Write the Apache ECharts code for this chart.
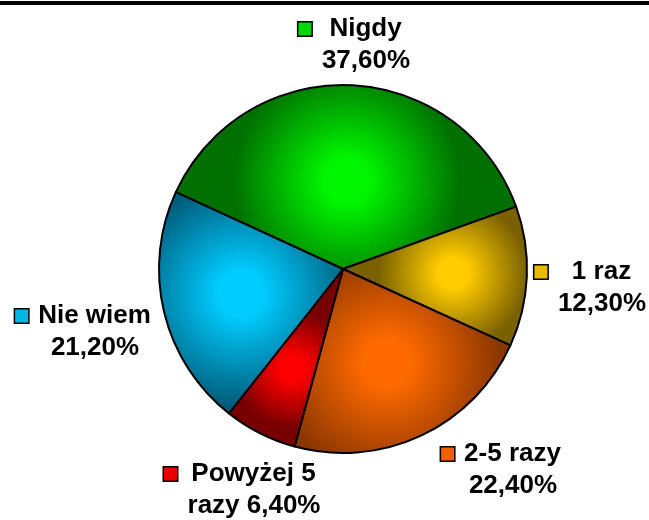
<!DOCTYPE html>
<html>
<head>
<meta charset="utf-8">
<script src="https://cdn.jsdelivr.net/npm/echarts@6/dist/echarts.min.js"></script>
<style>
  html, body { margin: 0; padding: 0; background: #fff; }
  #main { width: 649px; height: 520px; }
</style>
</head>
<body>
<div id="main"></div>
<script>
// dane
var categories = ['Nigdy', '1 raz', '2-5 razy', 'Powyżej 5 razy', 'Nie wiem'];
var values = [37.6, 12.3, 22.4, 6.4, 21.2];
// jak dzielimy etykiety na dwie linie
var labelFirst = ['Nigdy', '1 raz', '2-5 razy', 'Powyżej 5', 'Nie wiem'];
var labelTail = ['', '', '', 'razy ', ''];

// kolory: srodek -> brzeg (gradient jak w Excelu)
var brightColors = ['#00f500', '#ffcc00', '#ff6a00', '#ff0000', '#00ccff'];
var darkColors = ['#007000', '#7a6100', '#8a3600', '#780000', '#005a78'];
var markerColors = ['#00d800', '#e8ba00', '#f06000', '#e80000', '#00b8e8'];

// polozenie etykiet (srodek bloku tekstu), w kolejnosci kategorii
var labelPos = [[366, 45], [602, 288], [513, 470], [254, 490], [95, 332]];

var cx = 343, cy = 269, R = 184, startAngle = 155.3;
var FONT = '"Liberation Sans", Arial, sans-serif';

function pct(v) { return v.toFixed(2).replace('.', ',') + '%'; }

var cv = document.createElement('canvas').getContext('2d');
cv.font = 'bold 26px ' + FONT;
function tw(s) { return cv.measureText(s).width; }

var total = values.reduce(function (a, b) { return a + b; }, 0);
var cum = 0;
var seriesData = values.map(function (v, i) {
  var a0 = startAngle - cum / total * 360;
  var span = v / total * 360;
  cum += v;
  var mid = (a0 - span / 2) * Math.PI / 180;
  var alpha = span / 2 * Math.PI / 180;
  var d = 2 / 3 * R * Math.sin(alpha) / alpha * 0.92;
  var gx = cx + d * Math.cos(mid), gy = cy - d * Math.sin(mid);
  var gr = Math.max(0.32 * R, Math.min(0.62 * R, d * Math.sin(Math.min(alpha, Math.PI / 2)) * 1.8));

  var l1 = labelFirst[i], l2 = labelTail[i] + pct(v);
  var w1 = tw(l1), w2 = tw(l2);
  var g = (Math.max(w1, w2) - w1) / 2 + 10;

  return {
    name: categories[i],
    value: v,
    itemStyle: {
      color: new echarts.graphic.RadialGradient(gx, gy, gr, [
        { offset: 0, color: brightColors[i] },
        { offset: 0.2, color: brightColors[i] },
        { offset: 1, color: darkColors[i] }
      ], true)
    },
    label: {
      formatter: '{m| }{s| }{t|' + l1 + '}{p| }\n{t|' + l2 + '}',
      rich: {
        t: { fontSize: 26, fontWeight: 'bold', fontFamily: FONT, color: '#000', lineHeight: 32 },
        m: { width: 13, height: 13, backgroundColor: markerColors[i], borderColor: '#000', borderWidth: 1.5, fontSize: 10, lineHeight: 32 },
        s: { width: g, fontSize: 10 },
        p: { width: 14 + g, fontSize: 10 }
      }
    }
  };
});

var chart = echarts.init(document.getElementById('main'), null, { renderer: 'canvas' });
var option = {
  backgroundColor: '#fff',
  animation: false,
  graphic: [{
    type: 'rect',
    shape: { x: 0, y: 1, width: 649, height: 4 },
    style: { fill: '#000' }
  }],
  series: [{
    type: 'pie',
    center: [cx, cy],
    radius: R,
    startAngle: startAngle,
    clockwise: true,
    avoidLabelOverlap: false,
    emphasis: { disabled: true },
    itemStyle: { borderColor: '#000', borderWidth: 2 },
    label: { show: true, position: 'outside', align: 'center', overflow: 'none' },
    labelLine: { show: false },
    labelLayout: function (p) {
      var pos = labelPos[p.dataIndex];
      return { x: pos[0], y: pos[1], align: 'center', verticalAlign: 'middle' };
    },
    data: seriesData
  }]
};
chart.setOption(option);
</script>
</body>
</html>
